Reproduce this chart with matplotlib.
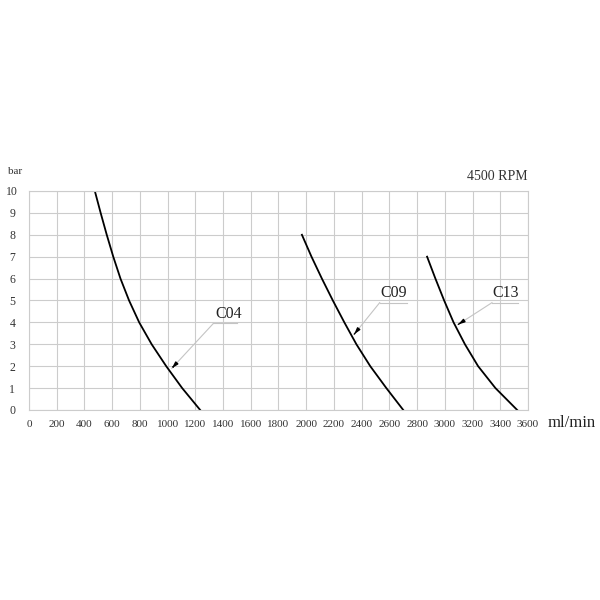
import matplotlib
matplotlib.use("Agg")
import matplotlib.pyplot as plt
import numpy as np

# pressure levels (bar), per curve
bar_c04 = [10, 9, 8, 7, 6, 5, 4, 3, 2, 1, 0]
flow_c04 = [475, 517, 561, 608, 660, 722, 795, 885, 990, 1105, 1235]

bar_c09 = [8, 7, 6, 5, 4, 3, 2, 1, 0]
flow_c09 = [1969, 2038, 2113, 2192, 2275, 2362, 2462, 2578, 2700]

bar_c13 = [7, 6, 5, 4, 3, 2, 1, 0]
flow_c13 = [2872, 2932, 2995, 3063, 3145, 3240, 3365, 3522]

names = ["C04", "C09", "C13"]
x_ticks = np.arange(0, 3601, 200)
y_ticks = np.arange(0, 11, 1)

serif = "Liberation Serif"
grid_col = "#cccccc"

fig = plt.figure(figsize=(6, 6), dpi=100)
ax = fig.add_axes([0.0483, 0.3167, 0.8317, 0.365])

ax.set_xlim(0, 3600)
ax.set_ylim(0, 10)
ax.set_xticks(x_ticks)
ax.set_yticks(y_ticks)
ax.grid(True, color=grid_col, linewidth=0.8)
for s in ax.spines.values():
    s.set_color(grid_col)
    s.set_linewidth(0.8)
ax.tick_params(length=0, labelsize=8.5, colors="#333333")
ax.tick_params(axis="x", pad=7, labelsize=8)
ax.tick_params(axis="y", pad=12)
for lab in ax.get_xticklabels() + ax.get_yticklabels():
    lab.set_fontfamily(serif)
for lab in ax.get_yticklabels():
    lab.set_horizontalalignment("center")

ax.plot(flow_c04, bar_c04, color="black", linewidth=1.3)
ax.plot(flow_c09, bar_c09, color="black", linewidth=1.3)
ax.plot(flow_c13, bar_c13, color="black", linewidth=1.3)

# leader lines: (label x, label y, shelf start, shelf end, shelf y, tip x, tip y)
leaders = [
    (1440, 4.4, 1330, 1500, 3.95, 1030, 1.9),
    (2630, 5.35, 2530, 2730, 4.9, 2345, 3.45),
    (3440, 5.35, 3340, 3530, 4.9, 3095, 3.9),
]
for name, (lx, ly, x0, x1, sy, tx, ty) in zip(names, leaders):
    ax.text(lx, ly, name, fontsize=11.5, family=serif, ha="center",
            va="center", color="#222222")
    ax.plot([x0, x1], [sy, sy], color="#c4c4c4", linewidth=0.8)
    ax.plot([x0, tx], [sy, ty], color="#c4c4c4", linewidth=0.8)
    # short black head at the tip
    dx = x0 - tx
    dy = sy - ty
    ax.annotate("", xy=(tx, ty), xytext=(tx + dx * 0.08, ty + dy * 0.08),
                arrowprops=dict(arrowstyle="-|>,head_length=0.35,head_width=0.1",
                                color="black", linewidth=1.0))

fig.text(15 / 600, 1 - 172 / 600, "bar", fontsize=8, family=serif,
         ha="center", va="center", color="#333333")
fig.text(528 / 600, 1 - 177 / 600, "4500 RPM", fontsize=10, family=serif,
         ha="right", va="center", color="#333333")
fig.text(572 / 600, 1 - 423 / 600, "ml/min", fontsize=12, family=serif,
         ha="center", va="center", color="#222222")

fig.savefig("out.png", dpi=100, facecolor="white")
